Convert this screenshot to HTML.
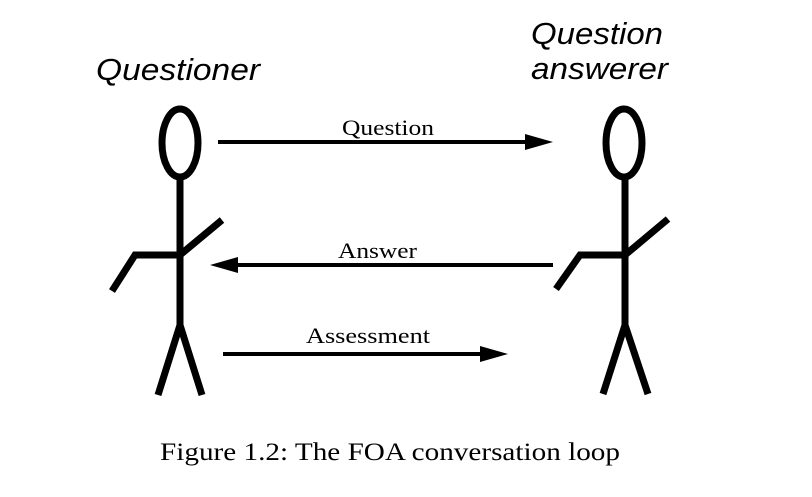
<!DOCTYPE html>
<html><head><style>body{margin:0;background:#fff}</style></head><body>
<svg width="812" height="492" xmlns="http://www.w3.org/2000/svg">
<g fill="none" stroke="#000" stroke-width="7">
<ellipse cx="180" cy="143" rx="18" ry="34"/>
<line x1="180" y1="177" x2="180" y2="325"/>
<polyline points="222,220 180,255 135,255 112,291"/>
<polyline points="158,395 180,325 202,395"/>
<ellipse cx="624" cy="143" rx="18" ry="34"/>
<line x1="625" y1="177" x2="625" y2="325"/>
<polyline points="668,219 625,255 580,255 556,289"/>
<polyline points="603,394 625,325 648,394"/>
</g>
<g stroke="#000" stroke-width="4">
<line x1="218" y1="142" x2="530" y2="142"/>
<line x1="235" y1="265" x2="553" y2="265"/>
<line x1="223" y1="354" x2="485" y2="354"/>
</g>
<polygon points="553,142 525,134 525,150"/>
<polygon points="210,265 238,257 238,273"/>
<polygon points="508,354 480,346 480,362"/>
<g font-family="Liberation Serif, serif" font-size="22" lengthAdjust="spacingAndGlyphs">
<text x="342" y="135" textLength="92" lengthAdjust="spacingAndGlyphs">Question</text>
<text x="338" y="258" textLength="79" lengthAdjust="spacingAndGlyphs">Answer</text>
<text x="306" y="343" textLength="124" lengthAdjust="spacingAndGlyphs">Assessment</text>
<text x="160" y="460" font-size="25" textLength="460" lengthAdjust="spacingAndGlyphs">Figure 1.2: The FOA conversation loop</text>
</g>
<g font-family="Liberation Sans, sans-serif" font-size="31" font-style="italic">
<text x="96" y="80" textLength="164" lengthAdjust="spacingAndGlyphs">Questioner</text>
<text x="531" y="44" textLength="132" lengthAdjust="spacingAndGlyphs">Question</text>
<text x="531" y="79" textLength="137" lengthAdjust="spacingAndGlyphs">answerer</text>
</g>
</svg>
</body></html>
